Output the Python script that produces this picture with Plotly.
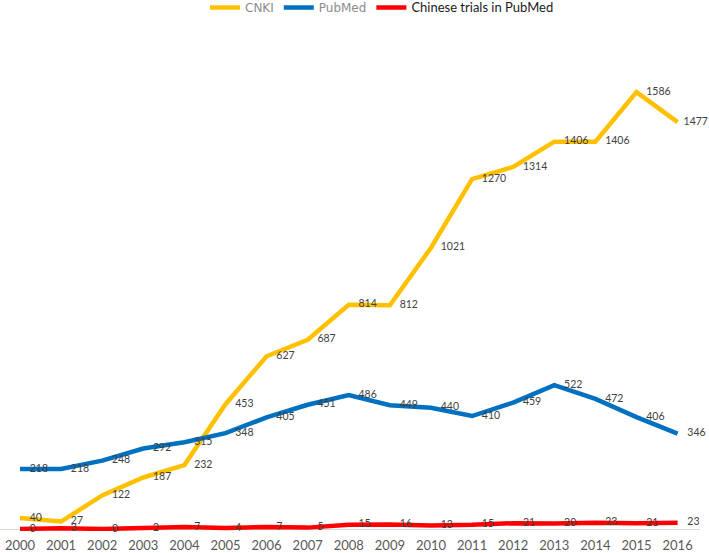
import plotly.graph_objects as go

years = list(range(2000, 2017))
cnki = [40, 27, 122, 187, 232, 453, 627, 687, 814, 812, 1021, 1270, 1314, 1406, 1406, 1586, 1477]
pubmed = [218, 218, 248, 292, 315, 348, 405, 451, 486, 449, 440, 410, 459, 522, 472, 406, 346]
chinese = [0, 3, 0, 2, 7, 4, 7, 5, 15, 16, 13, 15, 21, 20, 23, 21, 23]

series_names = [
    "<span style='font-family:DejaVu Sans;color:#8c8c8c'>CNKI</span>",
    "<span style='font-family:DejaVu Sans;color:#8c8c8c'>PubMed</span>",
    "<span style='font-family:Lato;color:#1a1a1a;font-size:13px'>Chinese trials in PubMed</span>",
]
series_values = [cnki, pubmed, chinese]
series_colors = ["#FFC000", "#0070C0", "#FF0000"]

fig = go.Figure()
for i, (name, vals, col) in enumerate(zip(series_names, series_values, series_colors)):
    # invisible markers only set the gap between each point and its label
    sizes = [14] * len(vals)
    if i == 0:
        sizes[-1] = 8
    fig.add_trace(go.Scatter(
        x=years, y=vals, name=name,
        mode="lines+markers+text",
        line=dict(color=col, width=4.5),
        marker=dict(size=sizes, color="rgba(0,0,0,0)", line=dict(width=0)),
        text=[str(v) for v in vals],
        textposition="middle right",
        textfont=dict(family="Lato, Carlito, sans-serif", size=10.5, color="#404040"),
        cliponaxis=False,
    ))

px_per_unit = 0.2755
top_m, bot_m = 30, 22
plot_h = 553 - top_m - bot_m
ymin = -2 / px_per_unit
ymax = ymin + plot_h / px_per_unit

fig.update_layout(
    width=709, height=553,
    margin=dict(l=0, r=9, t=top_m, b=bot_m, autoexpand=False),
    paper_bgcolor="white", plot_bgcolor="white",
    showlegend=True,
    legend=dict(orientation="h", x=205 / 700, xanchor="left", y=1 + 37 / plot_h, yanchor="top",
                font=dict(family="DejaVu Sans", size=12, color="#8c8c8c"),
                itemwidth=30, tracegroupgap=0, bgcolor="rgba(0,0,0,0)"),
    xaxis=dict(range=[1999.514, 2016.545], tickmode="array", tickvals=years,
               ticktext=[str(y) for y in years], showgrid=False, showline=False,
               zeroline=False, ticks="", automargin=False, ticklabelstandoff=5,
               tickfont=dict(family="Lato, Carlito, sans-serif", size=13, color="#595959")),
    yaxis=dict(range=[ymin, ymax], showticklabels=False, showgrid=False, showline=False,
               zeroline=True, zerolinecolor="#d9d9d9", zerolinewidth=1, ticks="",
               automargin=False),
)

fig.write_html("out.html", config={"displayModeBar": False},
               post_script="document.body.style.margin='0';document.body.style.overflow='hidden';")
